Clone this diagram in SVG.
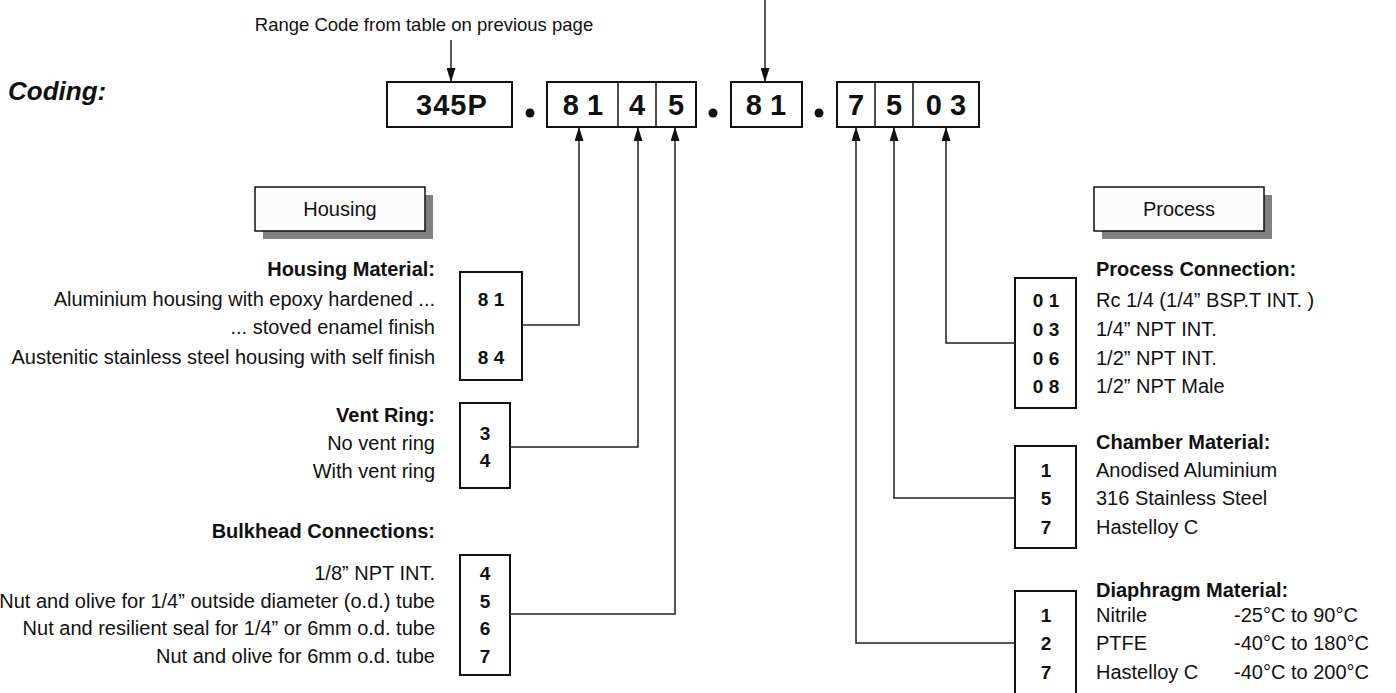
<svg xmlns="http://www.w3.org/2000/svg" width="1396" height="693" viewBox="0 0 1396 693">
<style>
.t{font-family:'Liberation Sans',Arial,Helvetica,sans-serif;font-size:20px;fill:#111}
.r{text-anchor:end}
.b{font-weight:bold}
.num{font-family:'Liberation Sans',Arial,Helvetica,sans-serif;font-weight:bold;font-size:19px;fill:#111;text-anchor:middle}
.code{font-family:'Liberation Sans',Arial,Helvetica,sans-serif;font-weight:bold;font-size:29px;fill:#111;text-anchor:middle}
.box{fill:#fff;stroke:#111;stroke-width:2}
.cell{fill:none;stroke:#111;stroke-width:1.5}
.tab{fill:#fcfcfc;stroke:#111;stroke-width:1.5}
.shadow{fill:#808080}
.dot{fill:#111}
.arr{fill:none;stroke:#222;stroke-width:1.5;marker-end:url(#ah)}
</style>
<defs>
<marker id="ah" viewBox="0 0 14 9" refX="14" refY="4.5" markerWidth="14" markerHeight="9" markerUnits="userSpaceOnUse" orient="auto">
<path d="M0,0 L14,4.5 L0,9 z" fill="#111"/>
</marker>
</defs>
<rect width="1396" height="693" fill="#fff"/>

<g id="title">
<text class="t b" x="8" y="100" style="font-style:italic;font-size:26px">Coding:</text>
<text class="t" x="424" y="31" text-anchor="middle" style="font-size:18.5px">Range Code from table on previous page</text>
</g>

<g id="code">
<rect class="box" x="387" y="82" width="125" height="45"/>
<text class="code" x="416" y="115" style="text-anchor:start;letter-spacing:1px">345P</text>
<circle class="dot" cx="530" cy="113" r="4.5"/>
<rect class="box" x="547" y="82" width="149" height="45"/>
<line class="cell" x1="618" y1="82" x2="618" y2="127"/>
<line class="cell" x1="656" y1="82" x2="656" y2="127"/>
<text class="code" x="583" y="115" xml:space="preserve">8 1</text>
<text class="code" x="637" y="115">4</text>
<text class="code" x="676" y="115">5</text>
<circle class="dot" cx="713" cy="113" r="4.5"/>
<rect class="box" x="731" y="82" width="71" height="45"/>
<text class="code" x="766" y="115" xml:space="preserve">8 1</text>
<circle class="dot" cx="819" cy="113" r="4.5"/>
<rect class="box" x="837" y="82" width="142" height="45"/>
<line class="cell" x1="875" y1="82" x2="875" y2="127"/>
<line class="cell" x1="913" y1="82" x2="913" y2="127"/>
<text class="code" x="856" y="115">7</text>
<text class="code" x="894" y="115">5</text>
<text class="code" x="946" y="115" xml:space="preserve">0 3</text>
</g>

<g id="housing-tab">
<rect class="shadow" x="263" y="195" width="170" height="44"/>
<rect class="tab" x="255" y="187" width="170" height="44"/>
<text class="t" x="340" y="216" text-anchor="middle">Housing</text>
</g>

<g id="process-tab">
<rect class="shadow" x="1102" y="195" width="170" height="44"/>
<rect class="tab" x="1094" y="187" width="170" height="44"/>
<text class="t" x="1179" y="216" text-anchor="middle">Process</text>
</g>

<g id="housing-material">
<text class="t r b" x="435" y="276">Housing Material:</text>
<text class="t r" x="435" y="306">Aluminium housing with epoxy hardened ...</text>
<text class="t r" x="435" y="334">... stoved enamel finish</text>
<text class="t r" x="435" y="364">Austenitic stainless steel housing with self finish</text>
<rect class="box" x="460" y="272" width="62" height="108"/>
<text class="num" x="491" y="306" xml:space="preserve">8 1</text>
<text class="num" x="491" y="364" xml:space="preserve">8 4</text>
</g>

<g id="vent-ring">
<text class="t r b" x="435" y="422">Vent Ring:</text>
<text class="t r" x="435" y="450">No vent ring</text>
<text class="t r" x="435" y="478">With vent ring</text>
<rect class="box" x="460" y="403" width="50" height="85"/>
<text class="num" x="485" y="440">3</text>
<text class="num" x="485" y="467">4</text>
</g>

<g id="bulkhead">
<text class="t r b" x="435" y="538">Bulkhead Connections:</text>
<text class="t r" x="435" y="580">1/8” NPT INT.</text>
<text class="t r" x="435" y="607.5">Nut and olive for 1/4” outside diameter (o.d.) tube</text>
<text class="t r" x="435" y="635">Nut and resilient seal for 1/4” or 6mm o.d. tube</text>
<text class="t r" x="435" y="662.5">Nut and olive for 6mm o.d. tube</text>
<rect class="box" x="460" y="555" width="50" height="120"/>
<text class="num" x="485" y="580">4</text>
<text class="num" x="485" y="607.5">5</text>
<text class="num" x="485" y="635">6</text>
<text class="num" x="485" y="662.5">7</text>
</g>

<g id="process-connection">
<text class="t b" x="1096" y="276">Process Connection:</text>
<text class="t" x="1096" y="307">Rc 1/4 (1/4” BSP.T INT. )</text>
<text class="t" x="1096" y="336">1/4” NPT INT.</text>
<text class="t" x="1096" y="365">1/2” NPT INT.</text>
<text class="t" x="1096" y="393">1/2” NPT Male</text>
<rect class="box" x="1015" y="278" width="61" height="130"/>
<text class="num" x="1046" y="307" xml:space="preserve">0 1</text>
<text class="num" x="1046" y="336" xml:space="preserve">0 3</text>
<text class="num" x="1046" y="365" xml:space="preserve">0 6</text>
<text class="num" x="1046" y="393" xml:space="preserve">0 8</text>
</g>

<g id="chamber-material">
<text class="t b" x="1096" y="449">Chamber Material:</text>
<text class="t" x="1096" y="477">Anodised Aluminium</text>
<text class="t" x="1096" y="505">316 Stainless Steel</text>
<text class="t" x="1096" y="534">Hastelloy C</text>
<rect class="box" x="1015" y="446" width="61" height="102"/>
<text class="num" x="1046" y="477">1</text>
<text class="num" x="1046" y="505">5</text>
<text class="num" x="1046" y="534">7</text>
</g>

<g id="diaphragm-material">
<text class="t b" x="1096" y="597">Diaphragm Material:</text>
<text class="t" x="1096" y="622">Nitrile</text>
<text class="t" x="1096" y="650">PTFE</text>
<text class="t" x="1096" y="679">Hastelloy C</text>
<text class="t" x="1234" y="622">-25°C to 90°C</text>
<text class="t" x="1234" y="650">-40°C to 180°C</text>
<text class="t" x="1234" y="679">-40°C to 200°C</text>
<rect class="box" x="1015" y="591" width="61" height="120"/>
<text class="num" x="1046" y="622">1</text>
<text class="num" x="1046" y="650">2</text>
<text class="num" x="1046" y="679">7</text>
</g>

<g id="connectors">
<line class="arr" x1="451" y1="40" x2="451" y2="82"/>
<line class="arr" x1="765" y1="0" x2="765" y2="82"/>
<polyline class="arr" points="522,325 579,325 579,127"/>
<polyline class="arr" points="510,447 638,447 638,127"/>
<polyline class="arr" points="510,614 675,614 675,127"/>
<polyline class="arr" points="1015,343 946,343 946,127"/>
<polyline class="arr" points="1015,498 894,498 894,127"/>
<polyline class="arr" points="1015,643 856,643 856,127"/>
</g>
</svg>
